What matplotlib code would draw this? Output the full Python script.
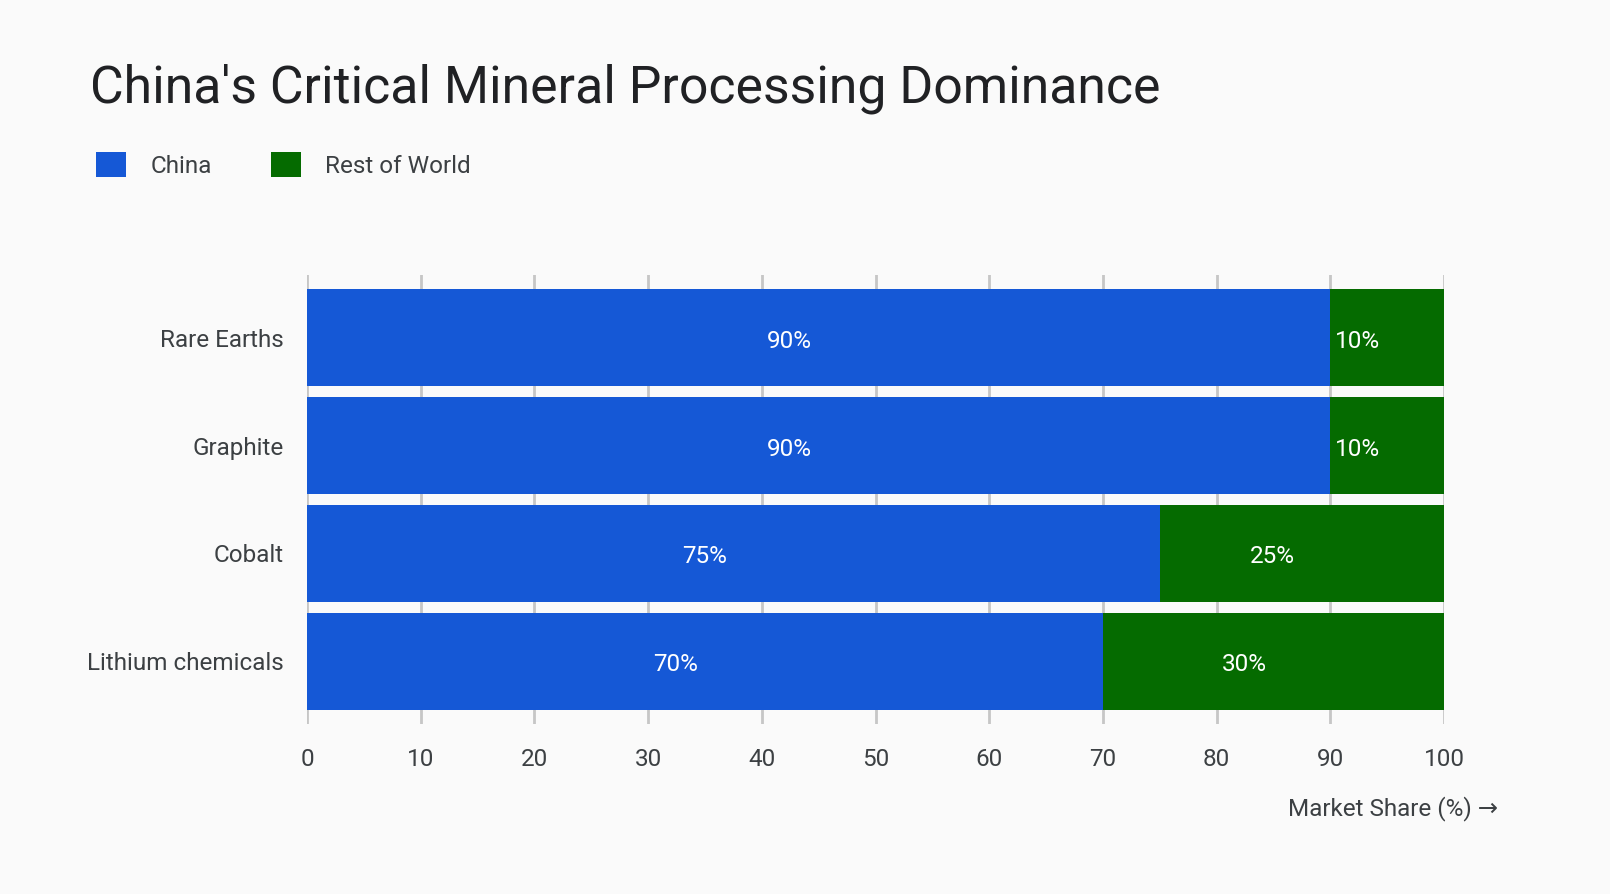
import matplotlib
matplotlib.use("Agg")
import matplotlib.pyplot as plt

# data
categories = ["Rare Earths", "Graphite", "Cobalt", "Lithium chemicals"]
china = [90, 90, 75, 70]
rest_of_world = [10, 10, 25, 30]
xticks = [0, 10, 20, 30, 40, 50, 60, 70, 80, 90, 100]

BG = "#fafafa"
BLUE = "#1558d6"
GREEN = "#056b00"
TXT = "#3c4043"
FS = 17.5

plt.rcParams["font.family"] = ["Roboto", "DejaVu Sans"]

fig = plt.figure(figsize=(16.1, 8.94), dpi=100, facecolor=BG)
ax = fig.add_axes([307 / 1610, 1 - 724 / 894, 1137 / 1610, 449 / 894])
ax.set_facecolor(BG)

ypos = list(range(len(categories)))
b1 = ax.barh(ypos, china, height=0.905, color=BLUE, label="China", zorder=3)
b2 = ax.barh(ypos, rest_of_world, left=china, height=0.905, color=GREEN,
             label="Rest of World", zorder=3)

# value labels (offset a bit to the left like the original)
for bars, vals, lefts in [(b1, china, [0] * 4), (b2, rest_of_world, china)]:
    for y, v, l in zip(ypos, vals, lefts):
        ax.annotate(f"{v}%", xy=(l + v / 2, y), xytext=(-21, -2.5),
                    textcoords="offset points", ha="center", va="center",
                    color="white", fontsize=FS, zorder=4)

ax.set_xlim(0, 100)
ax.set_ylim(3.58, -0.58)
ax.set_xticks(xticks)
ax.set_yticks(ypos)
ax.set_yticklabels(categories)
ax.tick_params(axis="both", length=0, labelsize=FS, colors=TXT)
ax.tick_params(axis="x", pad=17.5)
ax.tick_params(axis="y", pad=17)
ax.grid(axis="x", color="#c6c6c6", linewidth=2, zorder=0)
ax.grid(axis="y", visible=False)
for s in ax.spines.values():
    s.set_visible(False)

fig.text(90 / 1610, 1 - 103 / 894, "China's Critical Mineral Processing Dominance",
         fontsize=37.3, color="#202124", ha="left", va="baseline")

fig.text(1498 / 1610, 1 - 815 / 894, "Market Share (%) \u2192", fontsize=FS,
         color=TXT, ha="right", va="baseline")

leg = fig.legend(handles=[b1, b2], loc="upper left",
                 bbox_to_anchor=(96 / 1610, 1 - 152 / 894), ncol=2, frameon=False,
                 fontsize=FS, handlelength=1.23, handleheight=1.23,
                 handletextpad=1.0, columnspacing=2.45, borderaxespad=0,
                 borderpad=0)
for t in leg.get_texts():
    t.set_color(TXT)

fig.savefig("out.png", dpi=100, facecolor=BG)
